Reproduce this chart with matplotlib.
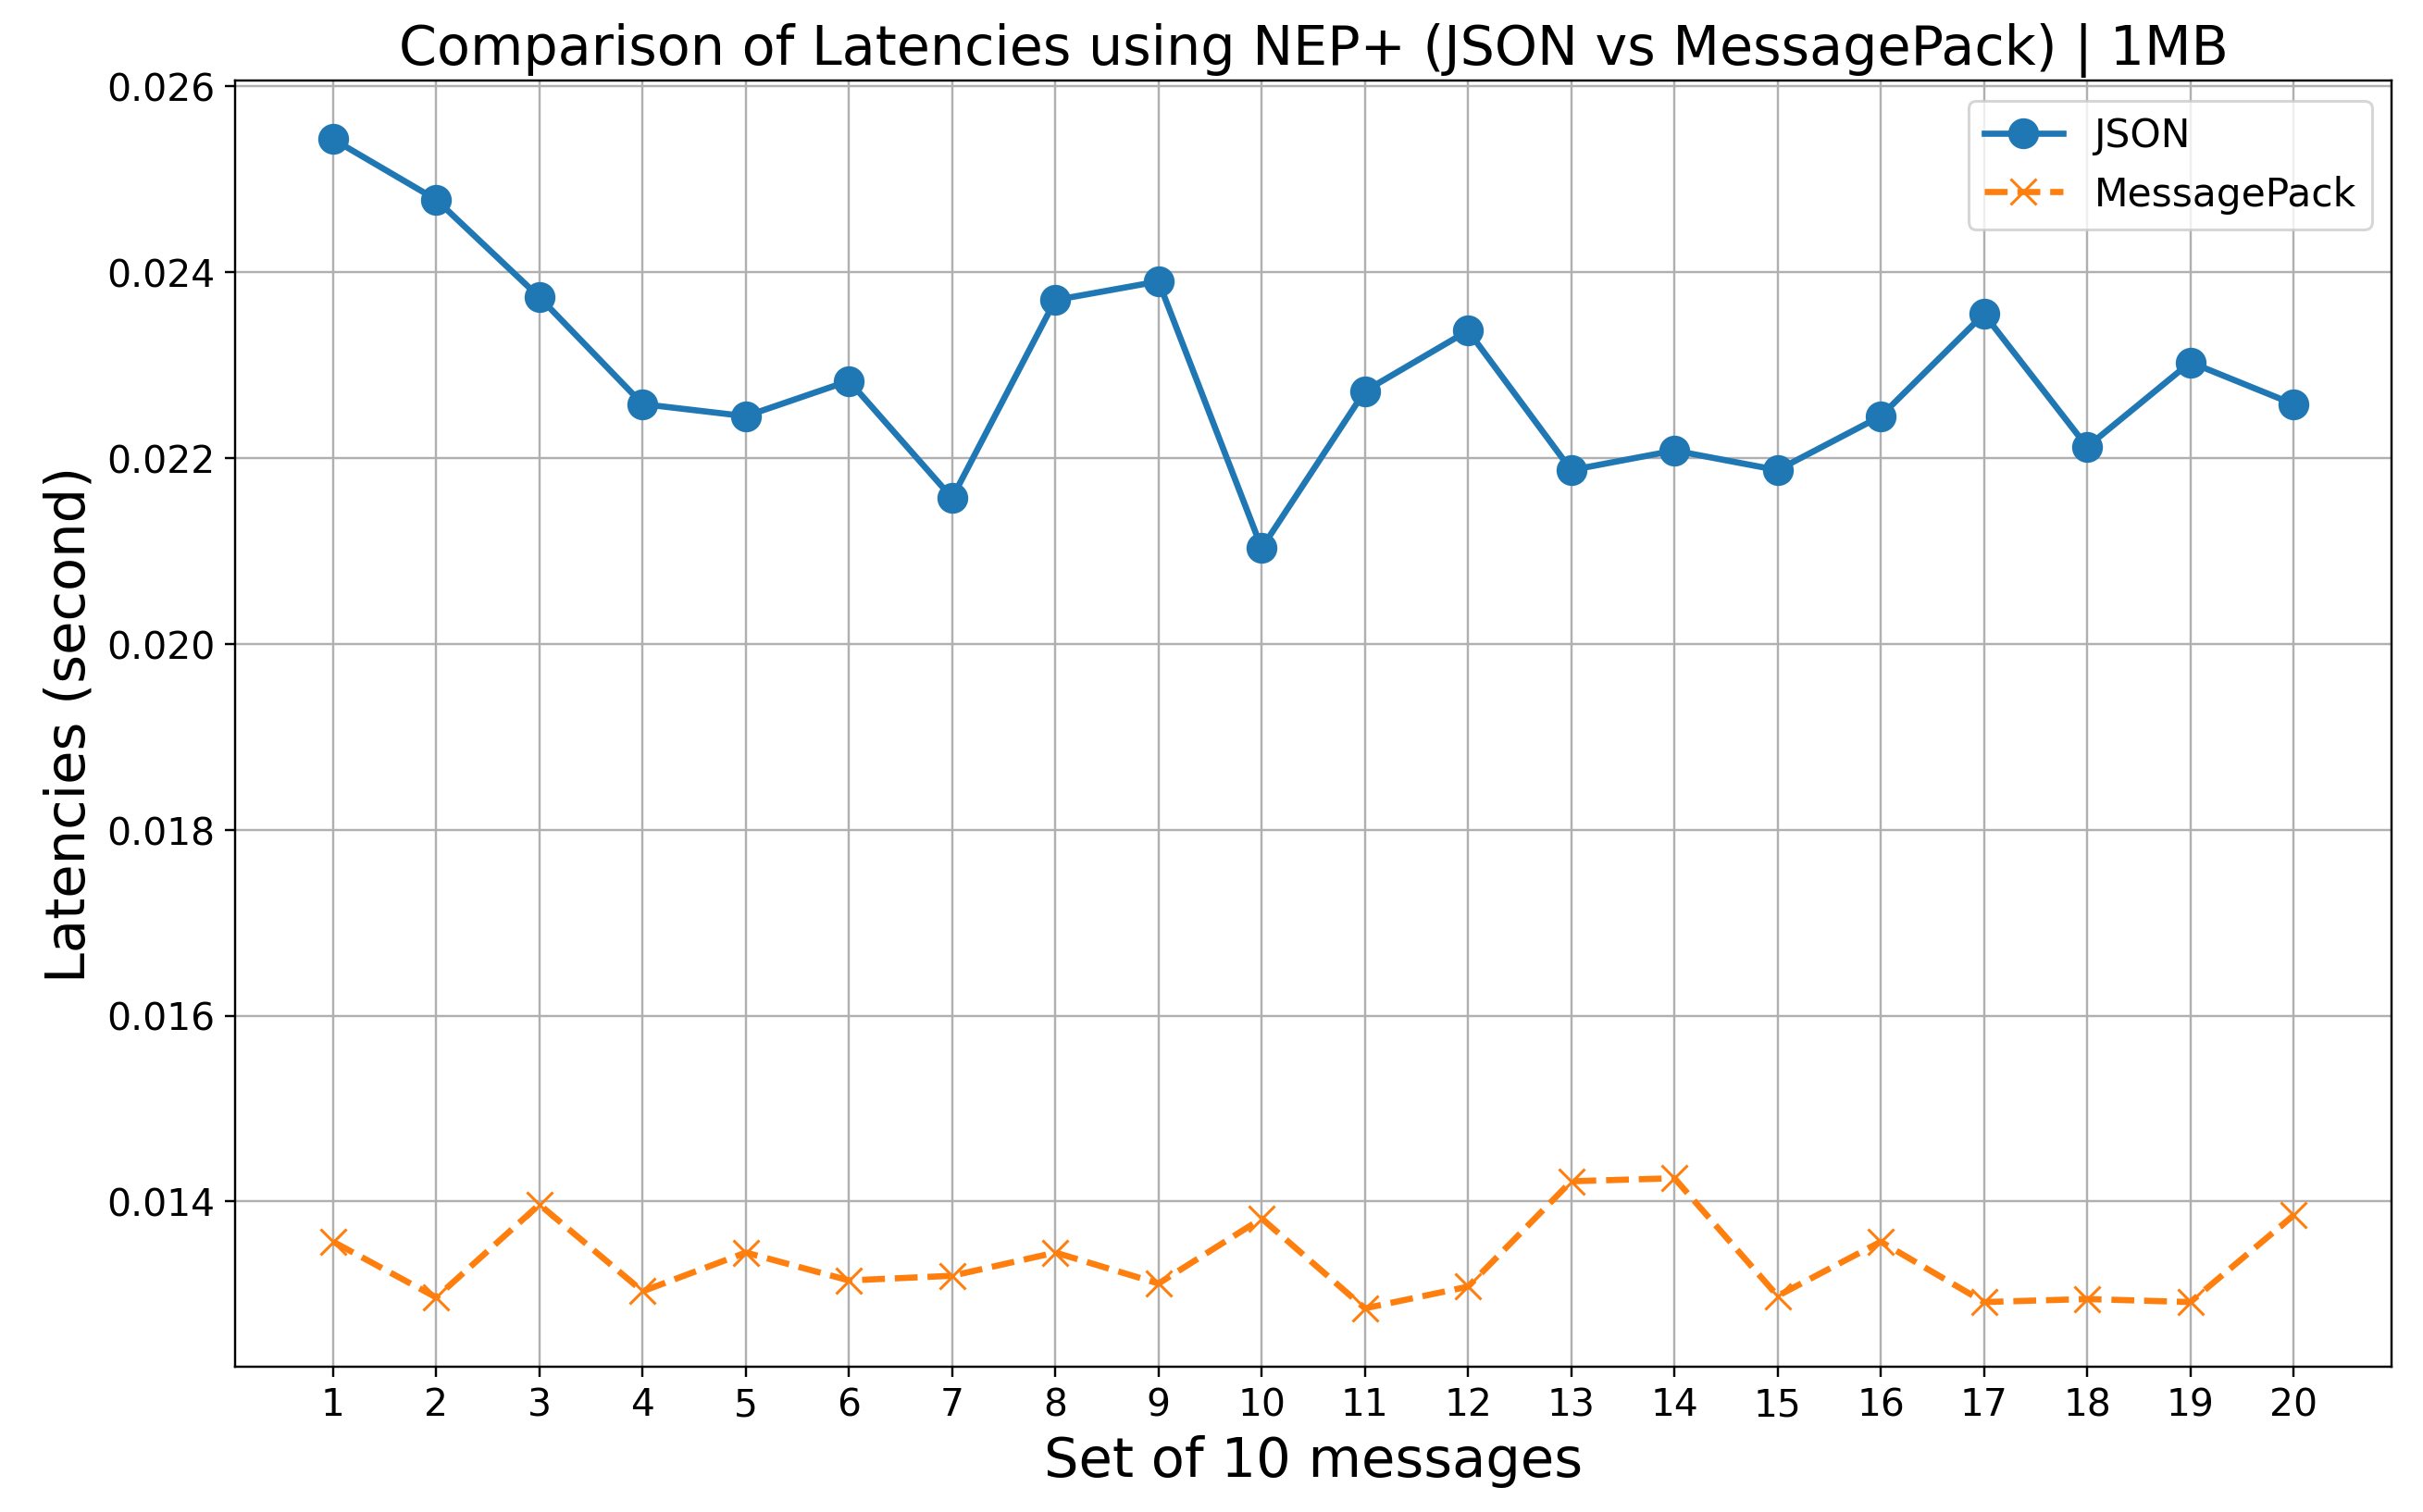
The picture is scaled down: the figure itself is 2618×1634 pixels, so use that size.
import matplotlib
matplotlib.use('Agg')
import matplotlib.pyplot as plt
import numpy as np

sets = np.arange(1, 21)
json_lat = [0.02543, 0.02478, 0.02373, 0.02258, 0.02245, 0.02283, 0.02157, 0.02370, 0.02390, 0.02103,
            0.02272, 0.02337, 0.02187, 0.02208, 0.02187, 0.02245, 0.02355, 0.02212, 0.02303, 0.02258]
msgpack_lat = [0.013567, 0.012967, 0.013967, 0.013033, 0.01345, 0.01315, 0.0132, 0.01345, 0.013117, 0.013817,
               0.01285, 0.013083, 0.014217, 0.01425, 0.012983, 0.013567, 0.012917, 0.01295, 0.012917, 0.01385]

fig, ax = plt.subplots(figsize=(12, 7.494), dpi=218.17)
ax.plot(sets, json_lat, marker='o', markersize=10, linewidth=2.2, label='JSON')
ax.plot(sets, msgpack_lat, marker='x', markersize=9, linewidth=2.2, linestyle='--', label='MessagePack')

ax.set_xticks(sets)
ax.tick_params(labelsize=13.5)
ax.set_title('Comparison of Latencies using NEP+ (JSON vs MessagePack) | 1MB', fontsize=19.4)
ax.set_xlabel('Set of 10 messages', fontsize=19.5)
ax.set_ylabel('Latencies (second)', fontsize=19.5)
ax.grid(True)
ax.legend(fontsize=14)

fig.subplots_adjust(left=0.097, right=0.987, top=0.946, bottom=0.096)
fig.savefig('out.png')
